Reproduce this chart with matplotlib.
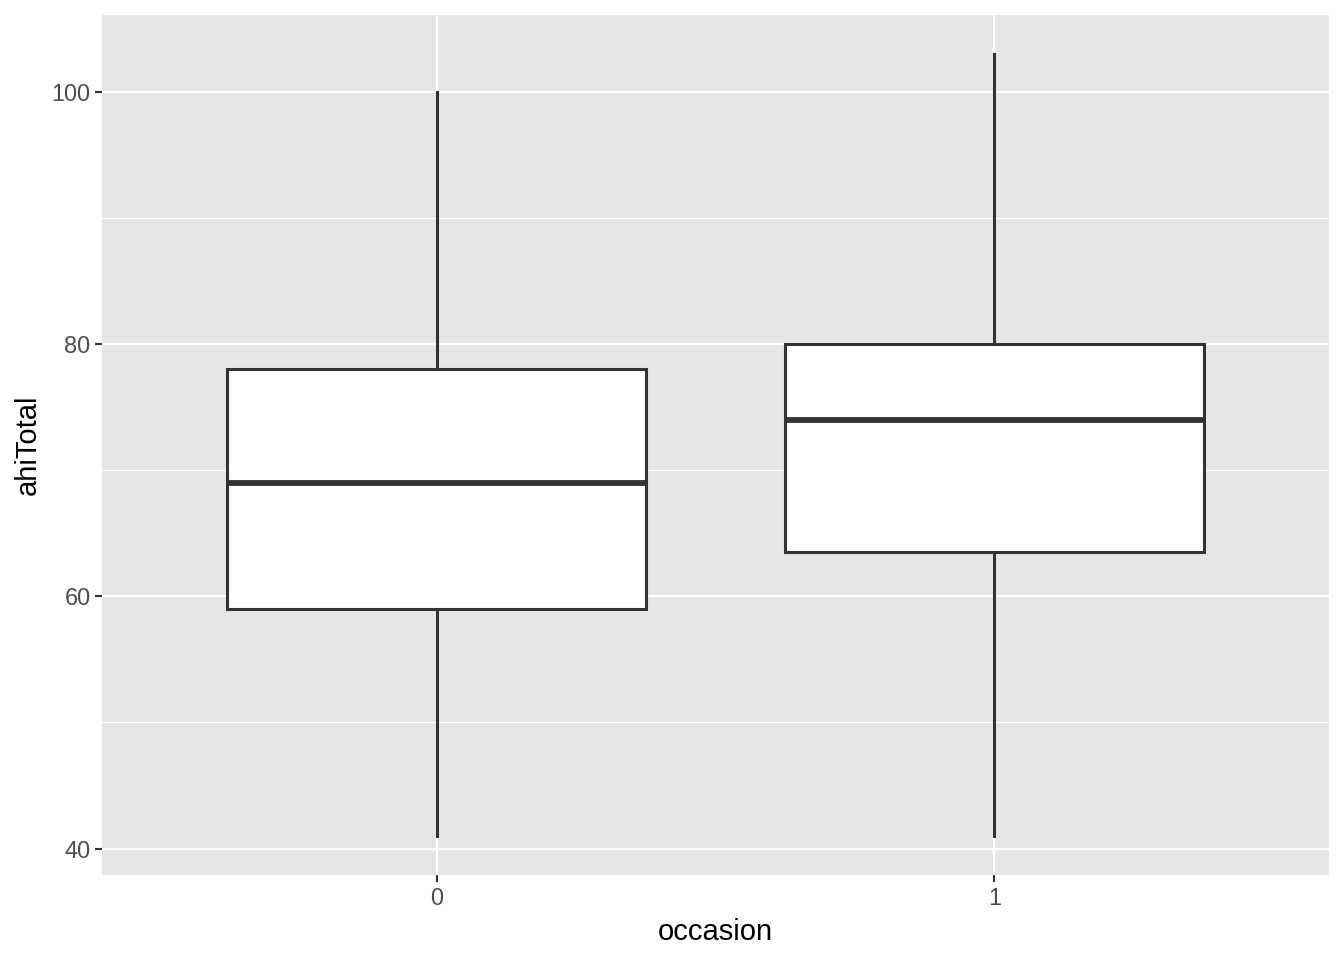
import matplotlib
matplotlib.use("Agg")
import matplotlib.pyplot as plt

categories = ["0", "1"]
whisker_low = [41, 41]
q1 = [59, 63.5]
median = [69, 74]
q3 = [78, 80]
whisker_high = [100, 103]

plt.rcParams['font.family'] = ['Liberation Sans', 'DejaVu Sans']

fig = plt.figure(figsize=(13.44, 9.6), dpi=100)
ax = fig.add_axes([102/1344, 85/960, (1329-102)/1344, (945-85)/960])
ax.set_facecolor('#E6E6E6')
for s in ax.spines.values():
    s.set_visible(False)

stats = []
for i, c in enumerate(categories):
    stats.append(dict(label=c, whislo=whisker_low[i], q1=q1[i], med=median[i],
                      q3=q3[i], whishi=whisker_high[i], fliers=[]))

pos = list(range(1, len(categories) + 1))
ax.bxp(stats, positions=pos, widths=0.75, patch_artist=True, showcaps=False,
       boxprops=dict(facecolor='white', edgecolor='#333333', linewidth=2.2),
       medianprops=dict(color='#333333', linewidth=4.2, solid_capstyle='butt'),
       whiskerprops=dict(color='#333333', linewidth=2.2),
       zorder=3)

lo = min(whisker_low); hi = max(whisker_high)
pad = (hi - lo) * 0.05
ax.set_ylim(lo - pad, hi + pad)
ax.set_xlim(0.4, len(categories) + 0.6)
ax.set_xticks(pos)
ax.set_xticklabels(categories)
ax.set_yticks([40, 60, 80, 100])
ax.set_yticks([50, 70, 90], minor=True)
ax.grid(which='major', color='white', linewidth=1.6, zorder=0)
ax.grid(which='minor', axis='y', color='white', linewidth=0.8, zorder=0)
ax.set_axisbelow(True)
ax.tick_params(axis='both', which='major', length=5.3, width=1.5, color='#333333',
               labelcolor='#4D4D4D', labelsize=16.9, pad=3)
ax.tick_params(axis='y', which='minor', length=0)
ax.set_xlabel('occasion', fontsize=21, color='black', labelpad=6)
ax.set_ylabel('ahiTotal', fontsize=21, color='black', labelpad=7)

fig.savefig('out.png', dpi=100)
